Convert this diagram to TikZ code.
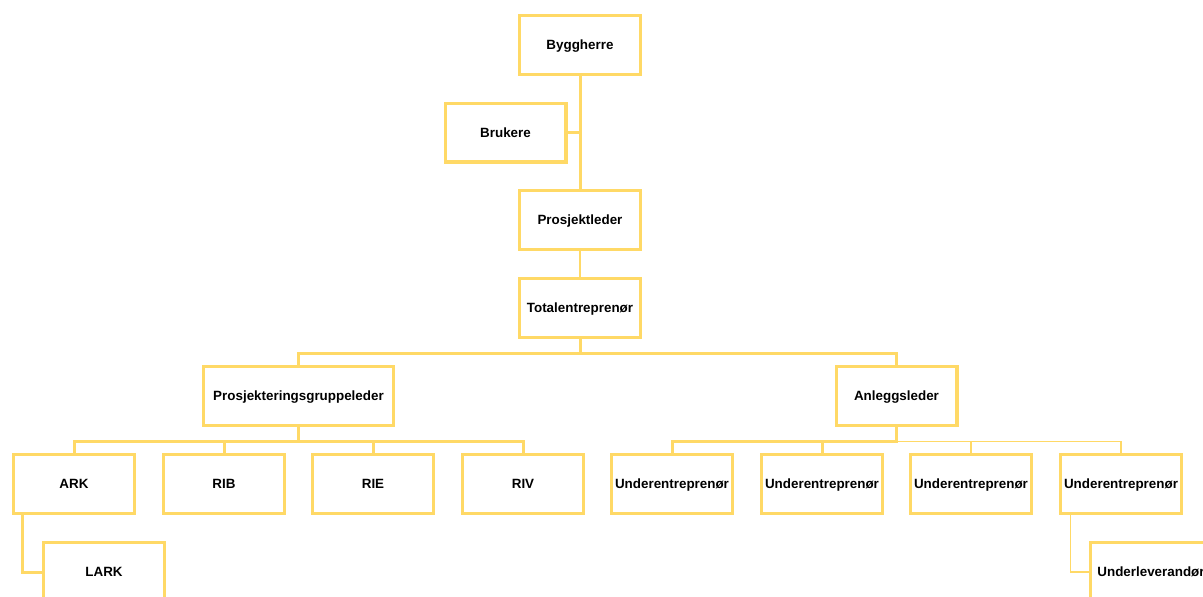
\documentclass[tikz,border=0pt]{standalone}
\usepackage{fontspec}
\setmainfont{Liberation Sans}
\definecolor{gold}{HTML}{FFD966}
\tikzset{
  orgbox/.style={draw=gold, line width=3.4pt, fill=white, minimum width=120.6pt,
    minimum height=58.6pt, inner sep=2pt, text height=9.7pt, text depth=0pt,
    font=\fontsize{13.4}{15}\selectfont\bfseries},
  widebox/.style={orgbox, minimum width=189.6pt},
  conn/.style={draw=gold, line width=3pt},
  thinconn/.style={draw=gold, line width=1.6pt}
}
\begin{document}
\begin{tikzpicture}[x=1pt, y=-1pt]
\clip (0,0) rectangle (1203,597);
% upper chain
\node[orgbox] (byg) at (580,45) {Byggherre};
\node[orgbox] (bru) at (505.5,132.5) {Brukere};
\node[orgbox] (pl)  at (580,220) {Prosjektleder};
\node[orgbox] (tot) at (580,308) {Totalentreprenør};
% second level
\node[widebox] (pgl) at (298.5,396) {Prosjekteringsgruppeleder};
\node[orgbox] (al)  at (896.5,396) {Anleggsleder};
% design disciplines
\node[orgbox] (ark) at (74,484)  {ARK};
\node[orgbox] (rib) at (224,484) {RIB};
\node[orgbox] (rie) at (373,484) {RIE};
\node[orgbox] (riv) at (523,484) {RIV};
\node[orgbox] (lark) at (104,572) {LARK};
% subcontractors
\node[orgbox] (u1) at (672,484)  {Underentreprenør};
\node[orgbox] (u2) at (822,484)  {Underentreprenør};
\node[orgbox] (u3) at (971,484)  {Underentreprenør};
\node[orgbox] (u4) at (1121,484) {Underentreprenør};
\node[orgbox] (ulev) at (1151,572) {Underleverandør};
% connectors
\draw[conn] (byg.south) -- (pl.north);
\draw[conn] (bru.east) -- (bru.east -| byg.south);
\draw[thinconn] (pl.south) -- (tot.north);
\draw[conn] (tot.south) -- ++(0,14.5) -| (pgl.north);
\draw[conn] (tot.south) -- ++(0,14.5) -| (al.north);
\draw[conn] (pgl.south) -- ++(0,14.5) -| (ark.north);
\draw[conn] (pgl.south) -- ++(0,14.5) -| (rib.north);
\draw[conn] (pgl.south) -- ++(0,14.5) -| (rie.north);
\draw[conn] (pgl.south) -- ++(0,14.5) -| (riv.north);
\draw[conn] (al.south) -- ++(0,14.5) -| (u1.north);
\draw[conn] (al.south) -- ++(0,14.5) -| (u2.north);
\draw[thinconn] (al.south) ++(0,14.5) -| (u3.north);
\draw[thinconn] (al.south) ++(0,14.5) -| (u4.north);
\draw[conn] ([xshift=10.5pt]ark.south west) |- (lark.west);
\draw[thinconn] ([xshift=11.5pt]u4.south west) |- (ulev.west);
\end{tikzpicture}
\end{document}
